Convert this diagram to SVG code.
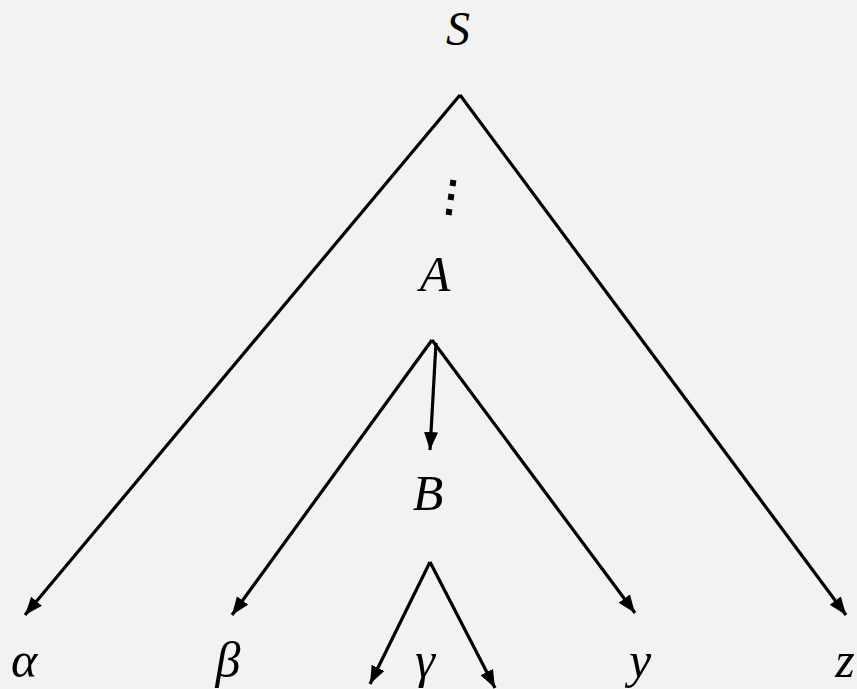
<svg xmlns="http://www.w3.org/2000/svg" width="857" height="689" viewBox="0 0 857 689">
<style>
.lbl{font-family:"Liberation Serif","DejaVu Serif",serif;font-style:italic;font-size:50px;fill:#000;text-anchor:middle}
.ar{stroke:#000;stroke-width:3.2;fill:none;marker-end:url(#ah)}
</style>
<defs>
<marker id="ah" markerUnits="userSpaceOnUse" markerWidth="20" markerHeight="16" refX="18" refY="7" orient="auto">
<path d="M0,0 L18,7 L0,14 Z" fill="#000"/>
</marker>
</defs>
<rect width="857" height="689" fill="#f2f2f2"/>
<g id="connectors">
<path class="ar" d="M460,95 L25,615"/>
<path class="ar" d="M460,95 L846,615"/>
<path class="ar" d="M432,340 L232,615"/>
<path class="ar" d="M432,340 L635,613"/>
<path class="ar" d="M436,343 L430,450"/>
<path class="ar" d="M430,562 L370,684"/>
<path class="ar" d="M430,562 L495,688"/>
<g fill="#000">
<rect x="450" y="180" width="6" height="6" transform="rotate(8 453 183)"/>
<rect x="448" y="194" width="6" height="6" transform="rotate(8 451 197)"/>
<rect x="446" y="209" width="6" height="6" transform="rotate(8 449 212)"/>
</g>
</g>
<g id="S"><text class="lbl" x="458" y="45" style="font-size:48px">S</text></g>
<g id="A"><text class="lbl" x="435" y="291">A</text></g>
<g id="B"><text class="lbl" x="428" y="510">B</text></g>
<g id="alpha"><text class="lbl" x="24" y="677">α</text></g>
<g id="beta"><text class="lbl" x="228" y="677">β</text></g>
<g id="gamma"><text class="lbl" x="425" y="677">γ</text></g>
<g id="y"><text class="lbl" x="640" y="677">y</text></g>
<g id="z"><text class="lbl" x="845" y="677">z</text></g>
</svg>
